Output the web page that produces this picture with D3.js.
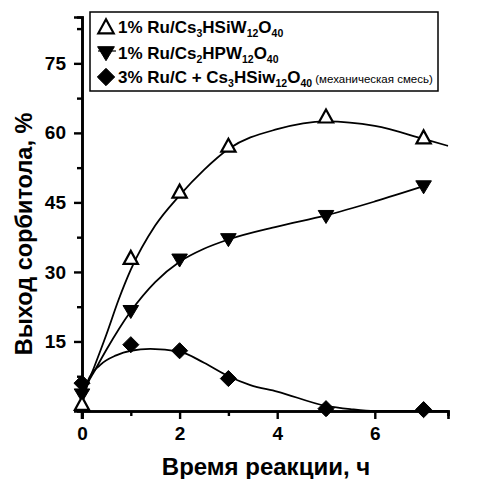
<!DOCTYPE html>
<html>
<head>
<meta charset="utf-8">
<script src="https://cdn.jsdelivr.net/npm/d3@7"></script>
<style>
  html, body { margin: 0; padding: 0; background: #fff; }
  svg { display: block; }
</style>
</head>
<body>
<svg id="chart" width="498" height="479"></svg>
<script>
// Measured yields (%) versus reaction time (h)
const time = [0, 1, 2, 3, 5, 7];
const ruCsSiW = [1.5, 33, 47.3, 57.2, 63.5, 59];       // 1% Ru/Cs3HSiW12O40
const ruCsPW = [3.5, 21.5, 32.6, 37, 42, 48.4];         // 1% Ru/Cs2HPW12O40
const ruCMix = [6, 14.3, 13, 7, 0.5, 0.3];              // 3% Ru/C + Cs3HSiW12O40

// Fitted trend lines (time, yield)
const fitSiWx = [0, 0.12, 0.25, 0.5, 0.75, 1, 1.5, 2, 2.5, 3, 4, 5, 6, 7, 7.5];
const fitSiWy = [1.5, 6, 9.5, 16.5, 24, 30.5, 40, 46.5, 52, 56.5, 60.8, 62.5, 61.5, 58.7, 57.2];
const fitPWx = [0, 0.12, 0.25, 0.5, 1, 1.5, 2, 2.5, 3, 4, 5, 6, 7];
const fitPWy = [2, 6, 8.5, 13.2, 21.5, 27.8, 32.2, 35, 37, 39.8, 42.2, 45.2, 48.5];
const fitMixX = [0, 0.12, 0.37, 0.7, 1, 1.4, 2, 2.5, 3, 3.45, 4, 5, 5.5, 6, 7, 7.5];
const fitMixY = [2.5, 6.5, 9.9, 12, 13, 13.4, 12.8, 10.4, 7.5, 5.6, 4.2, 1.1, 0.4, 0, 0, 0];

const xTicks = [0, 2, 4, 6];
const xMinor = [1, 3, 5, 7];
const yTicks = [15, 30, 45, 60, 75];
const yMinor = [7.5, 22.5, 37.5, 52.5, 67.5, 82.5];

const svg = d3.select("#chart");
const x = d3.scaleLinear().domain([0, 7.5]).range([82, 448]);
const y = d3.scaleLinear().domain([0, 85]).range([411, 17]);

const font = "'Liberation Sans', Arial, sans-serif";
const ink = "#000";

// Axes
const xAxis = svg.append("g").attr("transform", `translate(0,${y(0)})`)
  .call(d3.axisBottom(x).tickValues(xTicks).tickSize(8).tickPadding(8).tickFormat(d3.format("d")));
const xAxisMinor = svg.append("g").attr("transform", `translate(0,${y(0)})`)
  .call(d3.axisBottom(x).tickValues(xMinor).tickSize(5).tickFormat(""));
const yAxis = svg.append("g").attr("transform", `translate(${x(0)},0)`)
  .call(d3.axisLeft(y).tickValues(yTicks).tickSize(8).tickPadding(8));
const yAxisMinor = svg.append("g").attr("transform", `translate(${x(0)},0)`)
  .call(d3.axisLeft(y).tickValues(yMinor).tickSize(5).tickFormat(""));

[xAxis, xAxisMinor, yAxis, yAxisMinor].forEach(g => {
  g.select(".domain").attr("stroke", ink).attr("stroke-width", 2.6);
  g.selectAll(".tick line").attr("stroke", ink).attr("stroke-width", 2.4);
  g.selectAll(".tick text").attr("fill", ink)
    .style("font-family", font).style("font-size", "19px").style("font-weight", "bold");
});
// zero tick on the y axis continues down past the x axis
svg.append("line").attr("x1", x(0)).attr("x2", x(0)).attr("y1", y(0)).attr("y2", y(0) + 8)
  .attr("stroke", ink).attr("stroke-width", 2.6);

// Axis titles
svg.append("text").attr("x", 266).attr("y", 475).attr("text-anchor", "middle")
  .style("font-family", font).style("font-size", "24px").style("font-weight", "bold")
  .text("Время реакции, ч");
svg.append("text").attr("transform", "translate(32,234) rotate(-90)").attr("text-anchor", "middle")
  .style("font-family", font).style("font-size", "23.5px").style("font-weight", "bold")
  .text("Выход сорбитола, %");

// Trend lines
const line = d3.line().x(d => x(d[0])).y(d => y(d[1])).curve(d3.curveMonotoneX);
const zip = (a, b) => a.map((v, i) => [v, b[i]]);
[[fitSiWx, fitSiWy], [fitPWx, fitPWy], [fitMixX, fitMixY]].forEach(([xs, ys]) => {
  svg.append("path").datum(zip(xs, ys)).attr("d", line)
    .attr("fill", "none").attr("stroke", ink).attr("stroke-width", 1.8);
});

// Marker shapes
const triUp = s => `M0,${-s * 0.55}L${s * 0.55},${s * 0.45}L${-s * 0.55},${s * 0.45}Z`;
const triDown = s => `M0,${s * 0.55}L${s * 0.6},${-s * 0.45}L${-s * 0.6},${-s * 0.45}Z`;
const diamond = s => `M0,${-s * 0.62}L${s * 0.62},0L0,${s * 0.62}L${-s * 0.62},0Z`;

function markers(vals, shape, filled) {
  svg.append("g").selectAll("path").data(zip(time, vals)).join("path")
    .attr("transform", d => `translate(${x(d[0])},${y(d[1])})`)
    .attr("d", shape(13))
    .attr("fill", filled ? ink : "#fff")
    .attr("stroke", ink).attr("stroke-width", filled ? 1 : 2.2)
    .attr("stroke-linejoin", "miter");
}
markers(ruCMix, diamond, true);
markers(ruCsPW, triDown, true);
markers(ruCsSiW, triUp, false);

// Legend
const lg = svg.append("g");
lg.append("rect").attr("x", 90).attr("y", 12).attr("width", 348).attr("height", 79)
  .attr("fill", "#fff").attr("stroke", ink).attr("stroke-width", 1.5);

const legendRows = [
  { shape: triUp, filled: false, cy: 27, base: 33, stub: false,
    parts: [["1% Ru/Cs", 0], ["3", 1], ["HSiW", 0], ["12", 1], ["O", 0], ["40", 1]] },
  { shape: triDown, filled: true, cy: 53, base: 59, stub: true,
    parts: [["1% Ru/Cs", 0], ["2", 1], ["HPW", 0], ["12", 1], ["O", 0], ["40", 1]] },
  { shape: diamond, filled: true, cy: 77, base: 83, stub: false,
    parts: [["3% Ru/C + Cs", 0], ["3", 1], ["HSiw", 0], ["12", 1], ["O", 0], ["40", 1], [" (механическая смесь)", 2]] }
];
legendRows.forEach(r => {
  if (r.stub) {
    lg.append("line").attr("x1", 98).attr("x2", 116).attr("y1", r.cy - 2).attr("y2", r.cy - 2)
      .attr("stroke", ink).attr("stroke-width", 1.2);
  }
  lg.append("path").attr("transform", `translate(106,${r.cy})`).attr("d", r.shape(14))
    .attr("fill", r.filled ? ink : "#fff").attr("stroke", ink).attr("stroke-width", r.filled ? 1 : 2.2);
  const t = lg.append("text").attr("x", 118).attr("y", r.base)
    .style("font-family", font).style("font-size", "17px").style("font-weight", "bold");
  r.parts.forEach(([s, kind], i) => {
    const ts = t.append("tspan").text(s);
    if (kind === 1) ts.attr("dy", 4).style("font-size", "10.5px");
    else if (kind === 2) ts.attr("dy", -4).style("font-size", "11.5px").style("font-weight", "normal");
    else ts.attr("dy", i > 0 ? -4 : 0);
  });
});
</script>
</body>
</html>
